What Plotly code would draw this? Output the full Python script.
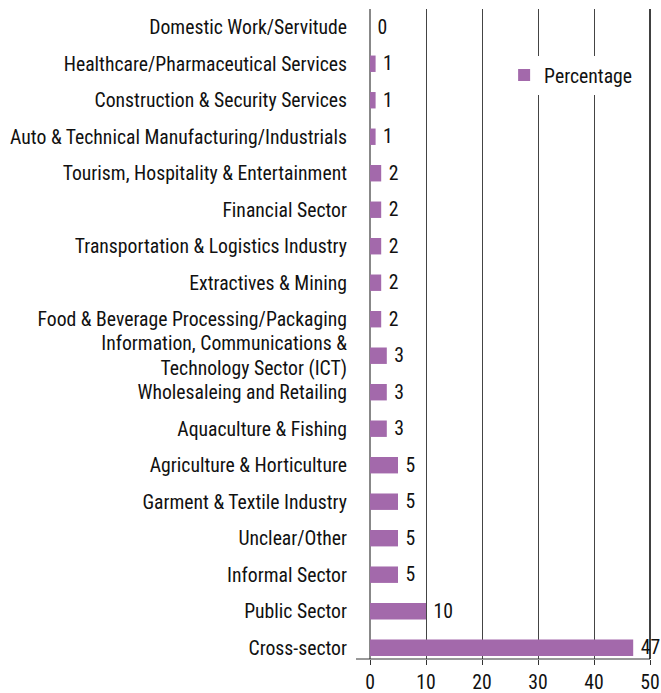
"""Sectors chart, horizontal bars."""

import plotly.graph_objects as go

categories = [
    "Domestic Work/Servitude",
    "Healthcare/Pharmaceutical Services",
    "Construction & Security Services",
    "Auto & Technical Manufacturing/Industrials",
    "Tourism, Hospitality & Entertainment",
    "Financial Sector",
    "Transportation & Logistics Industry",
    "Extractives & Mining",
    "Food & Beverage Processing/Packaging",
    "Information, Communications &<br>Technology Sector (ICT)",
    "Wholesaleing and Retailing",
    "Aquaculture & Fishing",
    "Agriculture & Horticulture",
    "Garment & Textile Industry",
    "Unclear/Other",
    "Informal Sector",
    "Public Sector",
    "Cross-sector",
]
percentage = [0, 1, 1, 1, 2, 2, 2, 2, 2, 3, 3, 3, 5, 5, 5, 5, 10, 47]
x_ticks = [0, 10, 20, 30, 40, 50]

FONT = "Roboto Condensed, Liberation Sans Narrow, sans-serif"
FS = 19.7
PURPLE = "#a369ab"

fig = go.Figure()
fig.add_trace(go.Bar(
    y=categories, x=percentage, orientation="h",
    name="Percentage",
    marker=dict(color=PURPLE, line=dict(width=0)),
    width=0.45,
    texttemplate=" %{x}", textposition="outside",
    constraintext="none",
    textfont=dict(family=FONT, size=FS, color="#111"),
    cliponaxis=False,
))

# short stub of the category axis to the left of zero
fig.add_shape(type="line", xref="paper", yref="paper",
              x0=-0.05, x1=1, y0=0, y1=0,
              line=dict(color="#333", width=1))
# darker frame line at the right end
fig.add_shape(type="line", xref="paper", yref="paper",
              x0=1, x1=1, y0=0, y1=1,
              line=dict(color="#000", width=1.5))

fig.update_layout(
    width=661, height=693,
    margin=dict(l=370, r=11, t=9, b=34),
    plot_bgcolor="white", paper_bgcolor="white",
    font=dict(family=FONT, size=FS, color="#111"),
    showlegend=True,
    legend=dict(x=0.479, y=0.898, xanchor="left", yanchor="middle",
                bgcolor="white", font=dict(size=FS),
                itemwidth=30),
    xaxis=dict(
        range=[0, 50], tickvals=x_ticks, showgrid=True,
        gridcolor="#444", gridwidth=1.2,
        zeroline=True, zerolinecolor="#888", zerolinewidth=2,
        ticks="outside", ticklen=5, tickcolor="#333",
        showline=False, fixedrange=True, automargin=False,
    ),
    yaxis=dict(
        range=[17.31, -0.5], categoryorder="array", categoryarray=categories,
        showgrid=False, ticks="", ticklabelstandoff=22,
        showline=False, automargin=False,
    ),
)

fig.write_html(
    "out.html",
    config={"displayModeBar": False},
    post_script="document.body.style.margin='0';"
                "document.body.style.overflow='hidden';",
)
